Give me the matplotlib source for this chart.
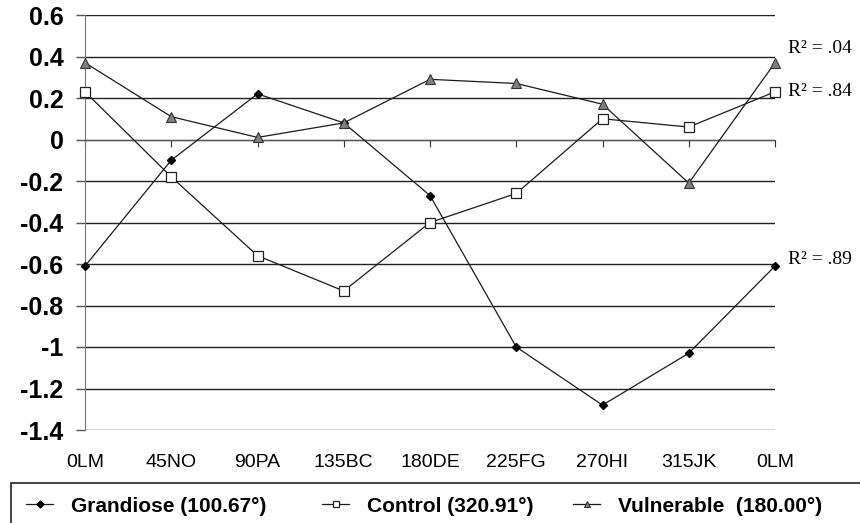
import matplotlib.pyplot as plt
from matplotlib.lines import Line2D
from matplotlib.patches import Rectangle

octants = ['0LM', '45NO', '90PA', '135BC', '180DE', '225FG', '270HI', '315JK', '0LM']
grandiose = [-0.61, -0.10, 0.22, 0.08, -0.27, -1.00, -1.28, -1.03, -0.61]
control = [0.23, -0.18, -0.56, -0.73, -0.40, -0.26, 0.10, 0.06, 0.23]
vulnerable = [0.37, 0.11, 0.01, 0.08, 0.29, 0.27, 0.17, -0.21, 0.37]
r2_labels = ['.89', '.84', '.04']
legend_labels = ['Grandiose (100.67\u00b0)', 'Control (320.91\u00b0)', 'Vulnerable  (180.00\u00b0)']
yticks = [0.6, 0.4, 0.2, 0, -0.2, -0.4, -0.6, -0.8, -1, -1.2, -1.4]

plt.rcParams['font.family'] = ['Liberation Sans', 'DejaVu Sans']

fig = plt.figure(figsize=(8.6, 5.23), dpi=100)
ax = fig.add_axes([85 / 860, 1 - 430 / 523, 690 / 860, 415 / 523])

x = list(range(len(octants)))
styles = [
    dict(marker='D', markersize=4, markerfacecolor='black', markeredgecolor='black'),
    dict(marker='s', markersize=7, markerfacecolor='white', markeredgecolor='#222222', markeredgewidth=0.9),
    dict(marker='^', markersize=7, markerfacecolor='#808080', markeredgecolor='#333333', markeredgewidth=0.8),
]
series = [grandiose, control, vulnerable]
for vals, st in zip(series, styles):
    ax.plot(x, vals, color='#1a1a1a', linewidth=0.9, clip_on=False, zorder=3, **st)

# R^2 labels next to the last point of each series
offsets = [(9, 5), (9, 0), (9, 10)]
for vals, lab, off in zip(series, r2_labels, offsets):
    ax.annotate('R\u00b2 = ' + lab, xy=(x[-1], vals[-1]), xytext=off, textcoords='offset points',
                ha='left', va='center', fontsize=14, family='Liberation Serif',
                annotation_clip=False)

ax.set_xlim(0, 8)
ax.set_ylim(-1.4, 0.6)
ax.set_yticks(yticks)
ax.set_yticklabels(['0' if v == 0 else ('%g' % v) for v in yticks], fontsize=18, fontweight='bold')
ax.yaxis.grid(True, color='#222222', linewidth=1)
ax.tick_params(axis='y', direction='out', length=6.5, width=1, color='#555555', pad=9)

for s in ['top', 'right']:
    ax.spines[s].set_visible(False)
ax.spines['left'].set_color('#777777')
ax.spines['bottom'].set_position(('data', 0))
ax.spines['bottom'].set_color('#555555')
ax.set_xticks(x)
ax.tick_params(axis='x', direction='out', length=5, color='#333333', labelbottom=False)

sec = ax.secondary_xaxis('bottom')
sec.set_xticks(x)
sec.set_xticklabels(octants, fontsize=14)
sec.tick_params(length=0, pad=17)
sec.spines['bottom'].set_visible(False)

# legend box running off the bottom/right edges
fig.patches.append(Rectangle((11 / 860, -0.1), 1.0, (523 - 483) / 523 + 0.1,
                             transform=fig.transFigure, fill=False,
                             edgecolor='#222222', linewidth=1.2))

handles = [Line2D([], [], color='#1a1a1a', linewidth=0.9, **st) for st in styles]
handles[0].set_markersize(3.5)
handles[1].set_markersize(5)
handles[2].set_markersize(5)
legend_x = [26, 322, 573]
for h, lab, lx in zip(handles, legend_labels, legend_x):
    fig.legend([h], [lab], loc='center left', bbox_to_anchor=(lx / 860, 1 - 506 / 523),
               frameon=False, prop=dict(size=15, weight='bold'), handlelength=1.3,
               handletextpad=0.85, borderaxespad=0, borderpad=0)

fig.savefig('out.png', dpi=100)
